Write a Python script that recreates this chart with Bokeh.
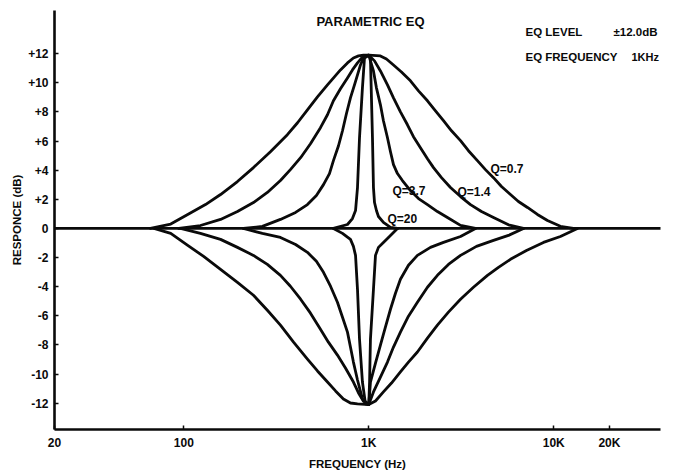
from bokeh.plotting import figure
from bokeh.models import Range1d, FixedTicker, Label
from bokeh.embed import file_html
from bokeh.resources import INLINE

# ---- data (frequency in Hz, response in dB) ----
flat_freq = [20, 37760]
flat_db = [0, 0]

boost_q07_f = [66, 85, 105, 131, 158, 195, 238, 294, 363, 412, 466, 528, 598, 652, 703, 767, 826, 880, 936, 1000,
               1156, 1246, 1360, 1502, 1680, 1857, 2076, 2294, 2534, 2800, 3133, 3458, 3866, 4272, 4722, 5216, 5834,
               6440, 7210, 8160, 9246, 10860, 12770]
boost_q07_db = [0, 0.3, 0.96, 1.64, 2.33, 3.22, 4.18, 5.27, 6.44, 7.26, 8.15, 9.04, 9.86, 10.41, 10.89, 11.37, 11.71, 11.85, 11.9, 11.9,
                11.85, 11.64, 11.23, 10.75, 10.14, 9.45, 8.77, 8.08, 7.40, 6.71, 6.03, 5.34, 4.66, 4.04, 3.49, 2.88, 2.33,
                1.85, 1.44, 0.96, 0.55, 0.15, 0]

boost_q14_f = [94, 123, 158, 195, 238, 283, 333, 377, 428, 484, 548, 598, 644, 703, 767, 816, 869, 936, 1000,
               1074, 1156, 1262, 1360, 1483, 1618, 1744, 1902, 2076, 2238, 2472, 2764, 3133, 3546, 4066, 4722, 5690, 6860]
boost_q14_db = [0, 0.2, 0.62, 1.16, 1.78, 2.47, 3.29, 4.04, 4.86, 5.82, 6.92, 7.81, 8.77, 9.59, 10.34, 10.89, 11.37, 11.85, 11.9,
                11.51, 10.82, 9.86, 8.97, 8.01, 7.12, 6.30, 5.55, 4.79, 4.18, 3.49, 2.81, 2.19, 1.64, 1.16, 0.75, 0.25, 0]

boost_q37_f = [210, 266, 333, 402, 466, 521, 569, 613, 644, 686, 721, 757, 796, 837, 869, 902, 936, 1000,
               1021, 1060, 1100, 1156, 1200, 1262, 1310, 1360, 1429, 1520, 1680, 1857, 2076, 2350, 2662, 3133, 3774]
boost_q37_db = [0, 0.14, 0.62, 1.10, 1.64, 2.26, 3.01, 3.77, 4.66, 5.68, 6.71, 7.88, 8.97, 9.86, 10.55, 11.23, 11.71, 11.9,
                11.51, 10.82, 9.66, 8.49, 7.40, 6.23, 5.27, 4.38, 3.77, 3.29, 2.60, 2.05, 1.64, 1.16, 0.75, 0.21, 0]

boost_q20_f = [644, 767, 816, 848, 869, 891, 924, 948, 1000, 1021, 1047, 1060, 1074, 1100, 1128, 1200, 1310, 1429]
boost_q20_db = [0, 0.27, 0.68, 1.23, 2.81, 6.23, 9.66, 11.71, 11.9, 11.71, 6.23, 2.81, 1.78, 1.23, 0.82, 0.41, 0.07, 0]

cut_q07_f = [69, 85, 105, 128, 158, 195, 238, 283, 333, 392, 466, 528, 598, 661, 729, 796, 869, 1000,
             1087, 1200, 1327, 1483, 1639, 1832, 2076, 2350, 2696, 3133, 3680, 4382, 5024, 5834, 7118, 8796, 10860, 13430]
cut_q07_db = [0, -0.34, -1.16, -1.92, -2.81, -3.70, -4.59, -5.62, -6.64, -7.81, -8.97, -9.79, -10.55, -11.16, -11.71, -11.99, -12.05, -12.1,
              -11.85, -11.23, -10.62, -9.86, -9.18, -8.49, -7.53, -6.64, -5.75, -4.86, -4.04, -3.22, -2.67, -2.12, -1.51, -0.96, -0.55, 0]

cut_q14_f = [96, 123, 158, 195, 238, 283, 333, 377, 428, 484, 548, 605, 677, 748, 826, 880, 936, 1000,
             1060, 1156, 1262, 1360, 1483, 1639, 1832, 2076, 2350, 2696, 3133, 3820, 4722, 5690, 6860]
cut_q14_db = [0, -0.34, -0.75, -1.30, -1.85, -2.47, -3.22, -3.97, -4.86, -5.82, -6.92, -7.81, -8.70, -9.59, -10.55, -11.30, -11.88, -12.1,
              -11.23, -10.21, -9.18, -8.15, -7.12, -6.03, -5.07, -4.04, -3.22, -2.47, -1.85, -1.23, -0.82, -0.48, 0]

cut_q37_f = [210, 266, 333, 402, 466, 521, 569, 621, 677, 721, 767, 796, 826, 869, 924, 1000,
             1021, 1087, 1156, 1230, 1310, 1394, 1483, 1639, 1832, 2155, 2534, 3133, 3774]
cut_q37_db = [0, -0.34, -0.62, -1.10, -1.64, -2.26, -3.01, -3.97, -5.07, -6.10, -7.12, -8.15, -9.18, -10.41, -11.71, -12.1,
              -10.55, -9.25, -8.01, -6.78, -5.55, -4.45, -3.49, -2.53, -1.85, -1.30, -0.96, -0.55, 0]

cut_q20_f = [644, 721, 796, 826, 848, 869, 891, 924, 960, 1000, 1010, 1021, 1060, 1087, 1128, 1200, 1294, 1429]
cut_q20_db = [0, -0.34, -0.75, -1.23, -1.85, -4.18, -7.60, -10.55, -12.05, -12.1, -10.55, -7.60, -4.18, -1.85, -1.30, -0.96, -0.55, 0]

x_ticks = [20, 100, 1000, 10000, 20000]
x_tick_labels = ["20", "100", "1K", "10K", "20K"]
y_ticks = [-12, -10, -8, -6, -4, -2, 0, 2, 4, 6, 8, 10, 12]
y_tick_labels = ["-12", "-10", "-8", "-6", "-4", "-2", "0", "+2", "+4", "+6", "+8", "+10", "+12"]

FONT = "Liberation Sans"
INK = "#0a0a0a"

p = figure(width=675, height=472, x_axis_type="log",
           x_range=Range1d(20, 37760), y_range=Range1d(-13.81, 14.97),
           output_backend="svg", toolbar_location=None,
           min_border_left=54, min_border_right=15, min_border_top=10, min_border_bottom=39)
p.outline_line_color = None
p.xgrid.visible = False
p.ygrid.visible = False
p.background_fill_color = "white"
p.border_fill_color = "white"

curves = [
    (flat_freq, flat_db),
    (boost_q07_f, boost_q07_db), (boost_q14_f, boost_q14_db),
    (boost_q37_f, boost_q37_db), (boost_q20_f, boost_q20_db),
    (cut_q07_f, cut_q07_db), (cut_q14_f, cut_q14_db),
    (cut_q37_f, cut_q37_db), (cut_q20_f, cut_q20_db),
]
for fx, dy in curves:
    p.line(fx, dy, line_color=INK, line_width=2.8, line_join="round", line_cap="round")

for ax in (p.xaxis[0], p.yaxis[0]):
    ax.axis_line_width = 2.6
    ax.axis_line_color = INK
    ax.major_tick_line_color = INK
    ax.major_tick_line_width = 1.5
    ax.major_tick_in = 4
    ax.major_tick_out = 0
    ax.minor_tick_line_color = None
    ax.major_label_text_font = FONT
    ax.major_label_text_font_style = "bold"
    ax.major_label_text_font_size = "12px"
    ax.major_label_text_color = INK
    ax.axis_label_text_font = FONT
    ax.axis_label_text_font_style = "bold"
    ax.axis_label_text_font_size = "11.5px"
    ax.axis_label_text_color = INK

p.xaxis.ticker = FixedTicker(ticks=x_ticks)
p.xaxis.major_label_overrides = dict(zip(x_ticks, x_tick_labels))
p.yaxis.ticker = FixedTicker(ticks=y_ticks)
p.yaxis.major_label_overrides = dict(zip(y_ticks, y_tick_labels))
p.xaxis.axis_label = "FREQUENCY (Hz)"
p.yaxis.axis_label = "RESPONCE (dB)"
p.xaxis.major_label_standoff = 6
p.xaxis.axis_label_standoff = 5
p.yaxis.major_label_standoff = 6
p.yaxis.axis_label_standoff = 2

def add_label(x, y, text, size="12px", align="left"):
    p.add_layout(Label(x=x, y=y, text=text, text_font=FONT, text_font_style="bold",
                       text_font_size=size, text_color=INK, text_align=align,
                       text_baseline="middle"))

add_label(1021, 14.2, "PARAMETRIC EQ", "13px", "center")
add_label(7032, 13.47, "EQ LEVEL", "11.5px")
add_label(21020, 13.47, "±12.0dB", "11.5px")
add_label(7032, 11.77, "EQ FREQUENCY", "11.5px")
add_label(26300, 11.77, "1KHz", "11px")

add_label(4548, 4.08, "Q=0.7")
add_label(3016, 2.52, "Q=1.4")
add_label(1342, 2.59, "Q=3.7")
add_label(1262, 0.68, "Q=20")

open("out.html", "w").write(file_html(p, INLINE))
